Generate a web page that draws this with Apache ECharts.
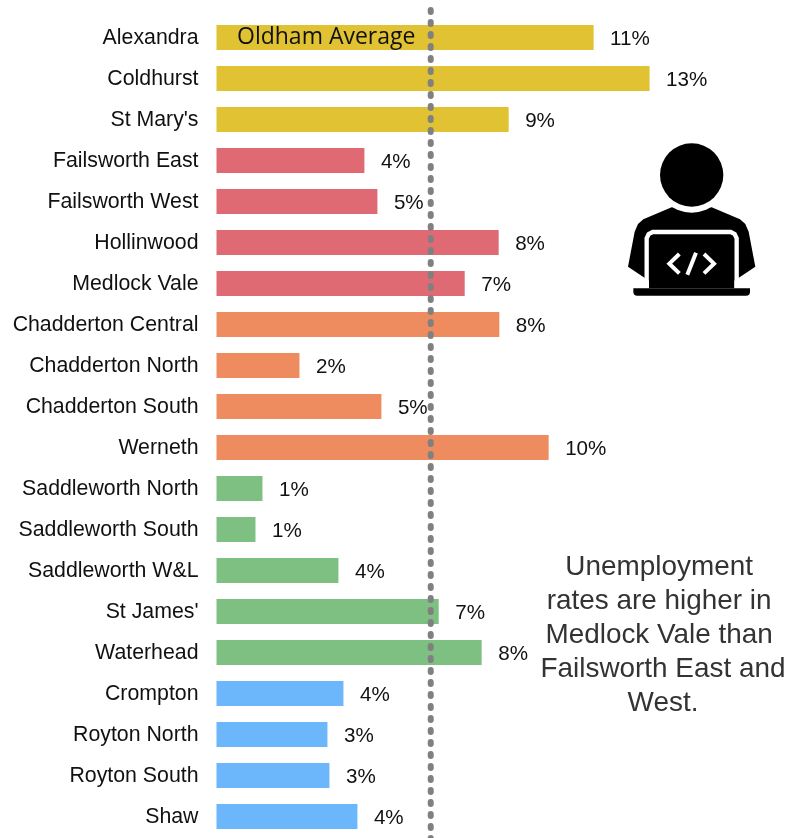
<!DOCTYPE html>
<html><head><meta charset="utf-8">
<script src="https://cdn.jsdelivr.net/npm/echarts@6/dist/echarts.min.js"></script>
<style>html,body{margin:0;padding:0;background:#fff}#c{width:790px;height:838px}</style>
</head><body><div id="c"></div>
<script>
const wards = ["Alexandra","Coldhurst","St Mary's","Failsworth East","Failsworth West","Hollinwood","Medlock Vale","Chadderton Central","Chadderton North","Chadderton South","Werneth","Saddleworth North","Saddleworth South","Saddleworth W&L","St James'","Waterhead","Crompton","Royton North","Royton South","Shaw"];
const rates = [11.32,13.0,8.77,4.44,4.83,8.47,7.45,8.49,2.49,4.95,9.97,1.38,1.17,3.66,6.67,7.96,3.81,3.33,3.39,4.23];
const groups = [0,0,0,1,1,1,1,2,2,2,2,3,3,3,3,3,4,4,4,4];
const palette = ["#E0C232","#E06A73","#EE8C5F","#7EBF82","#6CB6FC"];
const oldhamAverage = 6.43;
const axisMax = 17.2;

const chart = echarts.init(document.getElementById('c'), null, {renderer:'canvas'});
const sans = '"Liberation Sans", Arial, sans-serif';
const sego = '"Open Sans", "Noto Sans", sans-serif';
chart.setOption({
  animation:false,
  backgroundColor:'#fff',
  grid:[
    {left:216.5, top:17, width:573, height:820},
    {left:216.5, top:10, width:573, height:828}
  ],
  xAxis:[
    {gridIndex:0,type:'value',min:0,max:axisMax,show:false},
    {gridIndex:1,type:'value',min:0,max:axisMax,show:false}
  ],
  yAxis:[
    {gridIndex:0,type:'category',inverse:true,data:wards,
     axisLine:{show:false},axisTick:{show:false},
     axisLabel:{margin:18,formatter:v=>'{a|'+v+'}',
       rich:{a:{fontFamily:sans,fontSize:21.3,color:'#111',padding:[2,0,0,0]}}}},
    {gridIndex:1,type:'value',min:0,max:1,show:false}
  ],
  series:[
    {type:'bar',xAxisIndex:0,yAxisIndex:0,barWidth:25,
     data:rates.map((v,i)=>({value:v,itemStyle:{color:palette[groups[i]]}})),
     label:{show:true,position:'right',distance:16.5,offset:[0,2],fontFamily:sans,fontSize:20.6,color:'#111',
       formatter:p=>Math.round(p.value)+'%'},
     z:2},
    {type:'line',xAxisIndex:1,yAxisIndex:1,symbol:'none',clip:false,
     data:[[oldhamAverage,1],[oldhamAverage,-0.02]],
     lineStyle:{color:'#808080',width:6,type:[2,10],cap:'round'},z:5,silent:true}
  ],
  graphic:[
    {type:'text',x:237,y:26,z:10,style:{text:'Oldham Average',font:'23px '+sego,fill:'#111'}},
    {type:'text',z:10,x:663,y:550,style:{
      text:'Unemployment \nrates are higher in \nMedlock Vale than \nFailsworth East and\nWest.',
      font:'27.9px '+sans,fill:'#333',align:'center',lineHeight:34}},
    {type:'group',x:600,y:130,scaleX:1/3,scaleY:1/3,z:10,children:[
      {type:'polygon',z:1,shape:{points:[[215,232],[335,232],[420,268],[436,282],[446,305],[466,410],[403,452],[403,475],[147,475],[147,452],[84,410],[104,305],[114,282],[130,268]]},style:{fill:'#000'}},
      {type:'circle',z:2,shape:{cx:275,cy:135,r:113},style:{fill:'#fff'}},
      {type:'circle',z:3,shape:{cx:275,cy:135,r:95},style:{fill:'#000'}},
      {type:'polyline',z:3,shape:{points:[[140,475],[140,325],[146,312],[158,306],[392,306],[404,312],[410,325],[410,475]]},style:{fill:'none',stroke:'#fff',lineWidth:13}},
      {type:'rect',z:4,shape:{x:100,y:475,width:350,height:22,r:[0,0,12,12]},style:{fill:'#000'}},
      {type:'polyline',z:4,shape:{points:[[238,372],[208,401],[238,430]]},style:{fill:'none',stroke:'#fff',lineWidth:12}},
      {type:'polyline',z:4,shape:{points:[[312,372],[342,401],[312,430]]},style:{fill:'none',stroke:'#fff',lineWidth:12}},
      {type:'line',z:4,shape:{x1:288,y1:368,x2:262,y2:434},style:{stroke:'#fff',lineWidth:12}}
    ]}
  ]
});
</script></body></html>
